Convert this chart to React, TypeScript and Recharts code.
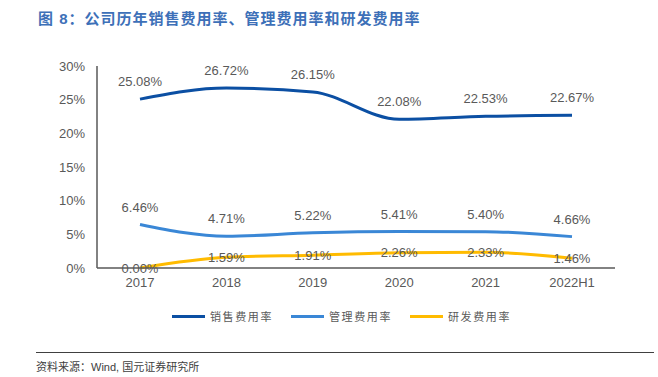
import React from "react";
import { LineChart, Line, XAxis, YAxis, LabelList, Legend } from "recharts";

const categories = ["2017", "2018", "2019", "2020", "2021", "2022H1"];
const salesRate = [25.08, 26.72, 26.15, 22.08, 22.53, 22.67];
const adminRate = [6.46, 4.71, 5.22, 5.41, 5.4, 4.66];
const rdRate = [0.0, 1.59, 1.91, 2.26, 2.33, 1.46];
const yTicks = [0, 5, 10, 15, 20, 25, 30];

const seriesNames = ["销售费用率", "管理费用率", "研发费用率"];
const seriesColors = ["#0b4fa3", "#3a87d6", "#ffbb00"];

const data = categories.map((c, i) => ({
  name: c,
  sales: salesRate[i],
  admin: adminRate[i],
  rd: rdRate[i],
}));

const fmt = (v: any) => `${Number(v).toFixed(2)}%`;
const font = "'Liberation Sans', Arial, 'Noto Sans CJK SC', sans-serif";
const cjk = "'Liberation Sans', 'Noto Sans CJK SC', sans-serif";

const LegendContent = () => (
  <div style={{ position: "relative", width: 658, height: 20 }}>
    {seriesNames.map((n, i) => (
      <div
        key={n}
        style={{
          position: "absolute",
          left: 172 + i * 119,
          top: 0,
          display: "flex",
          alignItems: "center",
          height: 20,
        }}
      >
        <div style={{ width: 33, height: 3, background: seriesColors[i] }} />
        <span
          style={{
            marginLeft: 5,
            fontSize: 11,
            letterSpacing: 1.6,
            color: "#595959",
            fontFamily: cjk,
          }}
        >
          {n}
        </span>
      </div>
    ))}
  </div>
);

export default function App() {
  return (
    <div
      style={{
        position: "absolute",
        left: 0,
        top: 0,
        width: 658,
        height: 377,
        background: "#fff",
        fontFamily: font,
      }}
    >
      <div
        style={{
          position: "absolute",
          left: 38,
          top: 7,
          fontSize: 15,
          fontWeight: 700,
          color: "#3d70b8",
          letterSpacing: 1,
          fontFamily: cjk,
          whiteSpace: "nowrap",
        }}
      >
        图 8：公司历年销售费用率、管理费用率和研发费用率
      </div>
      <LineChart
        width={658}
        height={377}
        data={data}
        margin={{ top: 66, right: 43, bottom: 59, left: 40 }}
      >
        <XAxis
          dataKey="name"
          height={30}
          padding={{ left: 43, right: 43 }}
          tickLine={false}
          axisLine={{ stroke: "#595959", strokeWidth: 1.5 }}
          tick={{ fill: "#595959", fontSize: 13, fontFamily: font }}
          tickMargin={4}
        />
        <YAxis
          width={57}
          domain={[0, 30]}
          ticks={yTicks}
          tickFormatter={(v) => `${v}%`}
          tickLine={false}
          axisLine={{ stroke: "#595959", strokeWidth: 1.5 }}
          tick={{ fill: "#595959", fontSize: 13, fontFamily: font }}
          tickMargin={6}
        />
        <Legend
          verticalAlign="bottom"
          wrapperStyle={{ left: 0, top: 306, width: 658 }}
          content={<LegendContent />}
        />
        <Line
          type="monotone"
          dataKey="sales"
          name={seriesNames[0]}
          stroke={seriesColors[0]}
          strokeWidth={3}
          dot={false}
          isAnimationActive={false}
        >
          <LabelList
            dataKey="sales"
            position="top"
            offset={13}
            formatter={fmt}
            style={{ fill: "#595959", fontSize: 13, fontFamily: font }}
          />
        </Line>
        <Line
          type="monotone"
          dataKey="admin"
          name={seriesNames[1]}
          stroke={seriesColors[1]}
          strokeWidth={3}
          dot={false}
          isAnimationActive={false}
        >
          <LabelList
            dataKey="admin"
            position="top"
            offset={13}
            formatter={fmt}
            style={{ fill: "#595959", fontSize: 13, fontFamily: font }}
          />
        </Line>
        <Line
          type="monotone"
          dataKey="rd"
          name={seriesNames[2]}
          stroke={seriesColors[2]}
          strokeWidth={3}
          dot={false}
          isAnimationActive={false}
        >
          <LabelList
            dataKey="rd"
            position="center"
            formatter={fmt}
            style={{ fill: "#595959", fontSize: 13, fontFamily: font }}
          />
        </Line>
      </LineChart>
      <div
        style={{
          position: "absolute",
          left: 36,
          top: 352,
          width: 618,
          height: 1,
          background: "#404040",
        }}
      />
      <div
        style={{
          position: "absolute",
          left: 36,
          top: 358,
          fontSize: 11,
          color: "#404040",
          fontFamily: cjk,
          whiteSpace: "nowrap",
        }}
      >
        资料来源：Wind, 国元证券研究所
      </div>
    </div>
  );
}
